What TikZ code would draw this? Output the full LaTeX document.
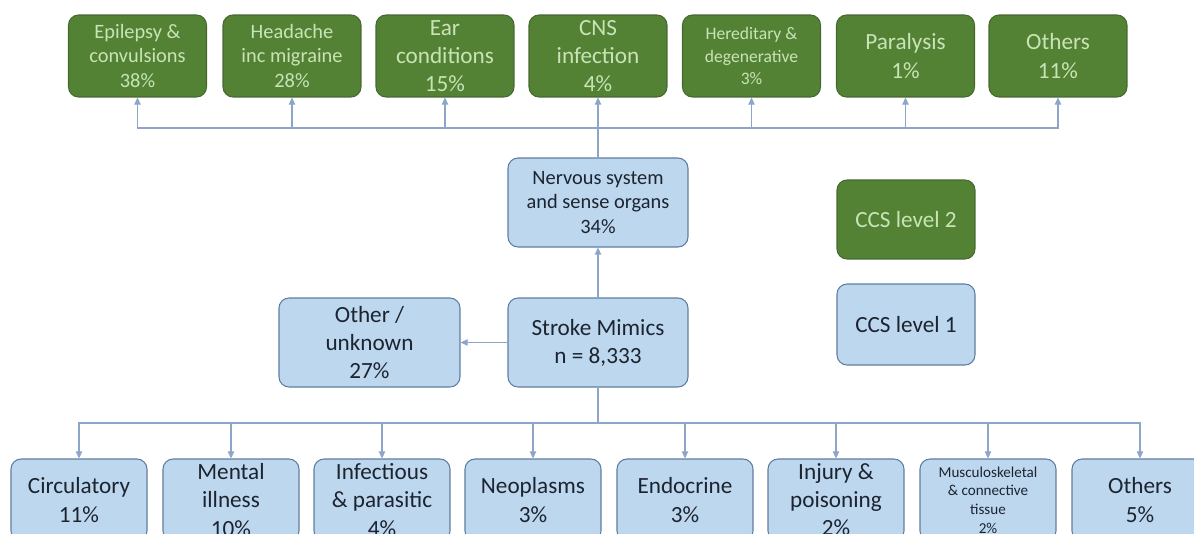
\documentclass[tikz,border=0pt]{standalone}
\usepackage{fontspec}
\setmainfont{Carlito}
\usetikzlibrary{arrows.meta}
\definecolor{lvltwo}{RGB}{84,130,53}
\definecolor{lvltwoline}{RGB}{70,105,50}
\definecolor{lvltwotext}{RGB}{200,228,182}
\definecolor{lvlone}{RGB}{189,215,238}
\definecolor{lvloneline}{RGB}{95,125,160}
\definecolor{lvlonetext}{RGB}{28,36,48}
\definecolor{linkcol}{RGB}{140,165,200}
\newcommand\fbig{\fontsize{13.2}{16}\selectfont}
\newcommand\fmid{\fontsize{11.6}{13.8}\selectfont}
\newcommand\fsmall{\fontsize{10}{13}\selectfont}
\newcommand\ftiny{\fontsize{8.6}{10.6}\selectfont}
\tikzset{
  box/.style={rounded corners=0.2cm,align=center,inner sep=1pt,line width=0.6pt,font=\fbig},
  ccstwo/.style={box,fill=lvltwo,draw=lvltwoline,text=lvltwotext,minimum width=2.76cm,minimum height=1.64cm},
  ccsone/.style={box,fill=lvlone,draw=lvloneline,text=lvlonetext,minimum width=2.72cm,minimum height=1.64cm},
  wire/.style={draw=linkcol,line width=0.6pt},
  link/.style={wire,-{Triangle[length=4pt,width=3.6pt]}}
}
\begin{document}
\begin{tikzpicture}[x=0.02cm,y=-0.02cm]
\useasboundingbox (0,0) rectangle (1194,534);
\clip (0,0) rectangle (1194,534);
%middle
\node[ccsone,minimum width=3.6cm,minimum height=1.78cm] (stroke) at (598,342.5) {Stroke Mimics\\n = 8,333};
\node[ccsone,minimum width=3.6cm,minimum height=1.78cm,font=\fmid] (nerv) at (598,202.5) {Nervous system\\and sense organs\\34\%};
\node[ccsone,minimum width=3.62cm,minimum height=1.78cm] (other) at (369.5,342.5) {Other /\\unknown\\27\%};
%legend
\node[ccstwo,minimum height=1.58cm] (keytwo) at (906,219.5) {CCS level 2};
\node[ccsone,minimum width=2.76cm,minimum height=1.62cm] (keyone) at (906,324.5) {CCS level 1};
%level 2 row
\node[ccstwo,font=\fmid] (epil) at (137.5,56) {Epilepsy \&\\convulsions\\38\%};
\node[ccstwo,font=\fmid] (head) at (292,56) {Headache\\inc migraine\\28\%};
\node[ccstwo] (ear) at (445,56) {Ear\\conditions\\15\%};
\node[ccstwo] (cns) at (598,56) {CNS\\infection\\4\%};
\node[ccstwo,font=\fsmall] (hered) at (751.5,56) {Hereditary \&\\degenerative\\3\%};
\node[ccstwo] (para) at (905.5,56) {Paralysis\\1\%};
\node[ccstwo] (othtwo) at (1058,56) {Others\\11\%};
%level 1 row
\node[ccsone] (circ) at (79,500) {Circulatory\\11\%};
\node[ccsone] (ment) at (231,500) {Mental\\illness\\10\%};
\node[ccsone] (infe) at (382,500) {Infectious\\\& parasitic\\4\%};
\node[ccsone] (neop) at (533,500) {Neoplasms\\3\%};
\node[ccsone] (endo) at (685,500) {Endocrine\\3\%};
\node[ccsone] (inju) at (836,500) {Injury \&\\poisoning\\2\%};
\node[ccsone,font=\ftiny] (musc) at (988,500) {Musculoskeletal\\\& connective\\tissue\\2\%};
\node[ccsone] (othone) at (1140,500) {Others\\5\%};
%links
\coordinate (tophub) at (598,128);
\coordinate (bothub) at (598,423);
\draw[link] (stroke.north) -- (nerv.south);
\draw[link] (stroke.west) -- (other.east);
\draw[wire] (nerv.north) -- (tophub);
\foreach \t in {epil,head,ear,cns,hered,para,othtwo}
  \draw[link] (tophub) -| (\t.south);
\draw[wire] (stroke.south) -- (bothub);
\foreach \b in {circ,ment,infe,neop,endo,inju,musc,othone}
  \draw[link] (bothub) -| (\b.north);
\end{tikzpicture}
\end{document}
